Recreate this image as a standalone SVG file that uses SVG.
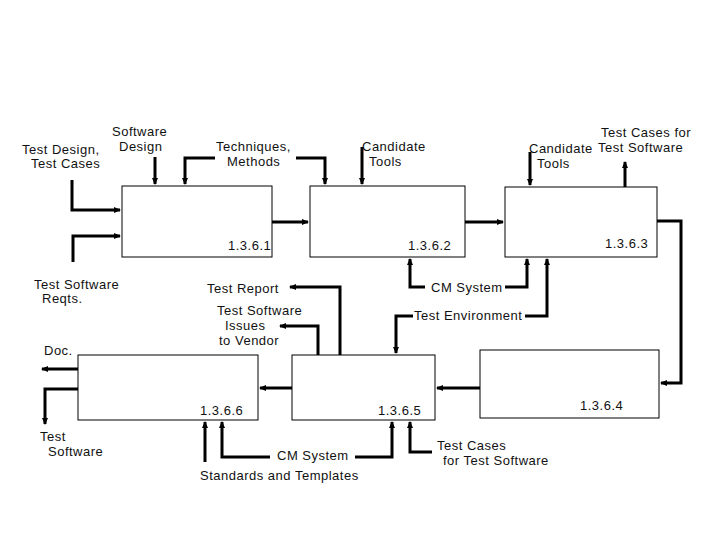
<svg xmlns="http://www.w3.org/2000/svg" width="720" height="540" viewBox="0 0 720 540">
<defs>
<marker id="a" markerWidth="8" markerHeight="8" refX="6" refY="4" orient="auto" markerUnits="userSpaceOnUse"><path d="M0,1 L7,4 L0,7 z" fill="#000"/></marker>
</defs>
<style>
text{font-family:"Liberation Sans",Arial,sans-serif;font-size:13px;fill:#111;letter-spacing:0.5px}
.b{fill:#fff;stroke:#000;stroke-width:1}
.c{fill:none;stroke:#000;stroke-width:3}
.c path{marker-end:url(#a)}
</style>
<rect width="720" height="540" fill="#fff"/>
<g id="n1"><rect class="b" x="122" y="186" width="150" height="71"/><text x="228" y="250">1.3.6.1</text></g>
<g id="n2"><rect class="b" x="310" y="186" width="155" height="71"/><text x="408" y="250">1.3.6.2</text></g>
<g id="n3"><rect class="b" x="505" y="187" width="152" height="70"/><text x="605" y="248">1.3.6.3</text></g>
<g id="n4"><rect class="b" x="480" y="350" width="179" height="68"/><text x="580" y="410">1.3.6.4</text></g>
<g id="n5"><rect class="b" x="292" y="355" width="143" height="65"/><text x="378" y="415">1.3.6.5</text></g>
<g id="n6"><rect class="b" x="78" y="355" width="180" height="65"/><text x="200" y="415">1.3.6.6</text></g>
<g id="labels">
<text x="22" y="154">Test Design,</text><text x="31" y="168">Test Cases</text>
<text x="112" y="136">Software</text><text x="119" y="151">Design</text>
<text x="216" y="151">Techniques,</text><text x="227" y="166">Methods</text>
<text x="362" y="151">Candidate</text><text x="369" y="166">Tools</text>
<text x="529" y="153">Candidate</text><text x="537" y="168">Tools</text>
<text x="601" y="137">Test Cases for</text><text x="598" y="152">Test Software</text>
<text x="34" y="289">Test Software</text><text x="42" y="303">Reqts.</text>
<text x="207" y="293">Test Report</text>
<text x="217" y="315">Test Software</text><text x="225" y="330">Issues</text><text x="219" y="345">to Vendor</text>
<text x="431" y="292">CM System</text>
<text x="414" y="320">Test Environment</text>
<text x="44" y="355">Doc.</text>
<text x="40" y="441">Test</text><text x="48" y="456">Software</text>
<text x="277" y="460">CM System</text>
<text x="200" y="480">Standards and Templates</text>
<text x="437" y="450">Test Cases</text><text x="443" y="465">for Test Software</text>
</g>
<g id="connectors" class="c">
<path d="M72,180 V210 H120"/>
<path d="M73,262 V236 H120"/>
<path d="M155,157 V184"/>
<path d="M215,158 H185 V184"/>
<path d="M296,158 H325 V184"/>
<path d="M272,222 H308"/>
<path d="M362,147 V184"/>
<path d="M465,222 H503"/>
<path d="M530,152 V185"/>
<path d="M625,187 V162"/>
<path d="M657,221 H681 V383 H661"/>
<path d="M425,287 H410 V259"/>
<path d="M505,287 H527 V259"/>
<path d="M525,316 H547 V259"/>
<path d="M413,316 H396 V353"/>
<path d="M480,388 H437"/>
<path d="M292,388 H260"/>
<path d="M340,355 V287 H290"/>
<path d="M318,355 V326 H280"/>
<path d="M78,369 H42"/>
<path d="M78,389 H45 V424"/>
<path d="M205,462 V422"/>
<path d="M270,457 H222 V422"/>
<path d="M355,457 H392 V422"/>
<path d="M432,452 H410 V422"/>
</g>
</svg>
